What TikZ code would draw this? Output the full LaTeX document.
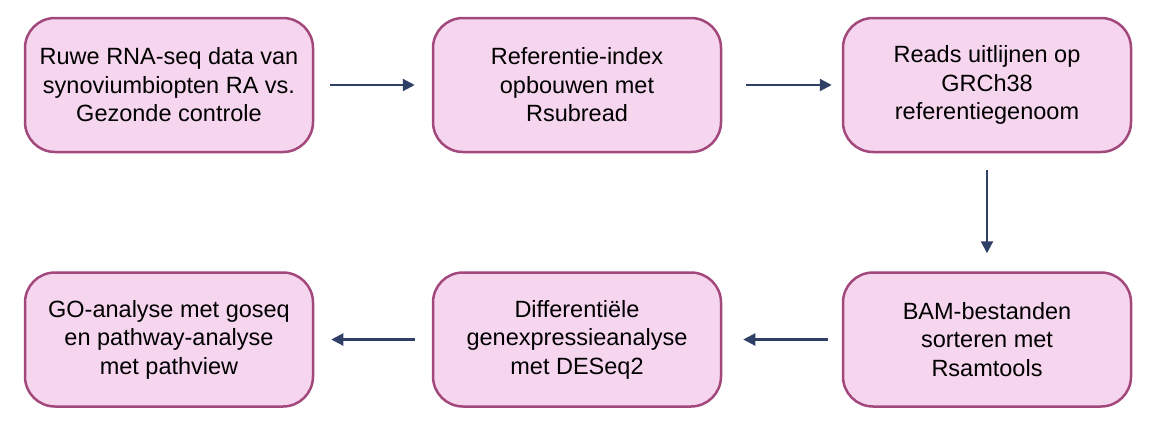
\documentclass[tikz,border=0pt]{standalone}
\usepackage{fontspec}
\setmainfont{Liberation Sans}
\usetikzlibrary{arrows.meta}
\definecolor{boxfill}{HTML}{F6D5EE}
\definecolor{boxdraw}{HTML}{A2487C}
\definecolor{arrowc}{HTML}{2F3F66}
\begin{document}
\begin{tikzpicture}[x=1pt,y=-1pt,
  stepbox/.style={draw=boxdraw, fill=boxfill, line width=2.5pt, rounded corners=30pt,
    minimum width=288pt, minimum height=134pt, align=center, inner sep=0pt,
    font=\fontsize{23.5}{28.5}\selectfont, text=black},
  flow/.style={draw=arrowc, line width=2.2pt, -{Triangle[length=12pt,width=12pt]}}]
\useasboundingbox (0,0) rectangle (1158,426);
\node[stepbox] (a) at (169,85) {Ruwe RNA-seq data van\\synoviumbiopten RA vs.\\Gezonde controle};
\node[stepbox] (b) at (577,85) {Referentie-index\\opbouwen met\\Rsubread};
\node[stepbox] (c) at (987,85) {Reads uitlijnen op\\GRCh38\\referentiegenoom};
\node[stepbox] (d) at (987,339.5) {BAM-bestanden\\sorteren met\\Rsamtools};
\node[stepbox] (e) at (577,339.5) {Differentiële\\genexpressieanalyse\\met DESeq2};
\node[stepbox] (f) at (169,339.5) {GO-analyse met goseq\\en pathway-analyse\\met pathview};
\draw[flow, shorten <=16pt, shorten >=17pt] (a) -- (b);
\draw[flow, shorten <=24pt, shorten >=10pt] (b) -- (c);
\draw[flow, shorten <=17pt, shorten >=18pt] (c) -- (d);
\draw[flow, shorten <=14pt, shorten >=21pt] (d) -- (e);
\draw[flow, shorten <=17pt, shorten >=17pt] (e) -- (f);
\end{tikzpicture}
\end{document}
